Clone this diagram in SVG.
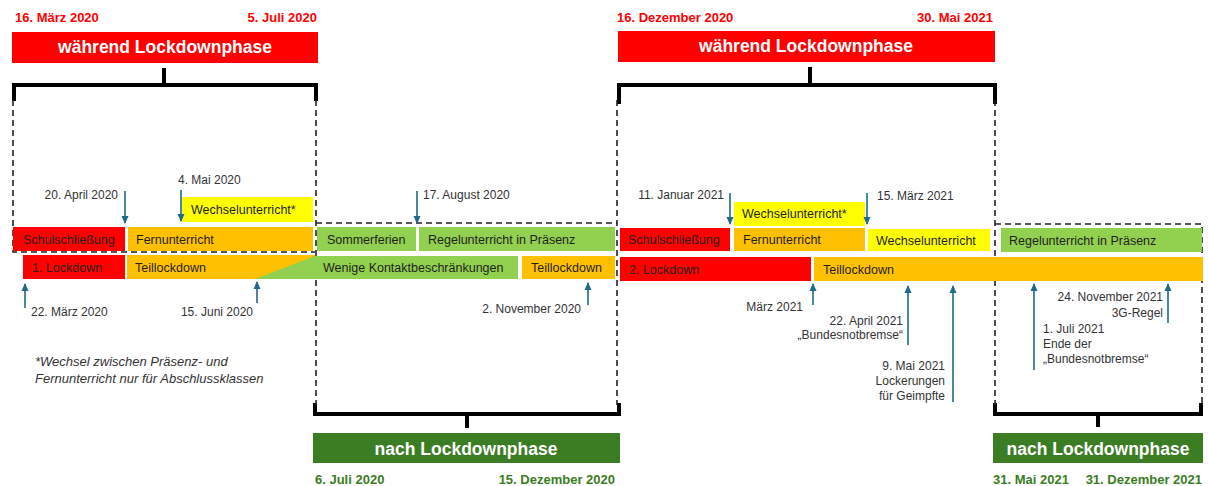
<svg xmlns="http://www.w3.org/2000/svg" width="1208" height="486" viewBox="0 0 1208 486">
<defs>
<marker id="ah" markerUnits="userSpaceOnUse" markerWidth="8" markerHeight="8" viewBox="0 0 8 8" refX="7" refY="4" orient="auto">
<path d="M0,0.5 L8,4 L0,7.5 Z" fill="#1F6A8A"/>
</marker>
<style>
text{font-family:"Liberation Sans",Arial,sans-serif;}
.bx{font-size:12.5px;fill:#1f1f1f;}
.lb{font-size:12px;fill:#333;}
.r{text-anchor:end;}
.ttl{font-size:17.5px;font-weight:bold;fill:#fff;text-anchor:middle;}
.dr{font-size:13px;font-weight:bold;fill:#FF0000;}
.dg{font-size:13px;font-weight:bold;fill:#3B7D23;}
.fn{font-size:13px;font-style:italic;fill:#333;}
.red{fill:#FF0000;}
.ora{fill:#FFC000;}
.yel{fill:#FFFF00;}
.grn{fill:#92D050;}
.dash{fill:none;stroke:#222;stroke-width:1.6;stroke-dasharray:6 4;}
.brk{fill:none;stroke:#000;stroke-width:4;}
.arr{stroke:#1F6A8A;stroke-width:1.6;fill:none;marker-end:url(#ah);}
</style>
</defs>

<g id="phase1">
<text class="dr" x="15" y="22">16. März 2020</text>
<text class="dr r" x="317" y="22">5. Juli 2020</text>
<rect class="red" x="12" y="32" width="306" height="31"/>
<text class="ttl" x="165" y="53">während Lockdownphase</text>
<path class="brk" d="M14,101 V85 H316 V101 M164,68 V85"/>
</g>

<g id="phase2">
<path class="brk" d="M315,403 V414 H619 V403 M467,414 V428"/>
<rect fill="#3B7D23" x="313" y="433" width="307" height="30"/>
<text class="ttl" x="466" y="455">nach Lockdownphase</text>
<text class="dg" x="315" y="484">6. Juli 2020</text>
<text class="dg r" x="615" y="484">15. Dezember 2020</text>
</g>

<g id="phase3">
<text class="dr" x="617" y="22">16. Dezember 2020</text>
<text class="dr r" x="993" y="22">30. Mai 2021</text>
<rect class="red" x="618" y="31" width="377" height="31"/>
<text class="ttl" x="806" y="52">während Lockdownphase</text>
<path class="brk" d="M619,104 V85 H995 V104 M810,67 V85"/>
</g>

<g id="phase4">
<path class="brk" d="M995,403 V414 H1201 V403 M1098,414 V427"/>
<rect fill="#3B7D23" x="993" y="433" width="210" height="30"/>
<text class="ttl" x="1098" y="455">nach Lockdownphase</text>
<text class="dg" x="993" y="484">31. Mai 2021</text>
<text class="dg r" x="1202" y="484">31. Dezember 2021</text>
</g>

<g id="frames">
<path class="dash" d="M13,100 V252 H315"/>
<path class="dash" d="M316,100 V405"/>
<path class="dash" d="M316,223 H617"/>
<path class="dash" d="M617,100 V405"/>
<path class="dash" d="M995,100 V405"/>
<path class="dash" d="M995,224 H1202 V405"/>
</g>

<g id="bars1">
<g id="n-schul1"><rect class="red" x="13" y="227" width="112" height="24"/><text class="bx" x="23" y="244">Schulschließung</text></g>
<g id="n-fern1"><rect class="ora" x="128" y="227" width="185" height="24"/><text class="bx" x="136" y="244">Fernunterricht</text></g>
<g id="n-wech1"><rect class="yel" x="182" y="197" width="131" height="25"/><text class="bx" x="191" y="214">Wechselunterricht*</text></g>
<g id="n-lock1"><rect class="red" x="23" y="255" width="102" height="24"/><text class="bx" x="32" y="272">1. Lockdown</text></g>
<g id="n-teil1"><rect class="ora" x="127" y="255" width="188" height="24"/><polygon class="grn" points="255,279 315,256 315,279"/><text class="bx" x="135" y="272">Teillockdown</text></g>
</g>

<g id="bars2">
<g id="n-sommer"><rect class="grn" x="317" y="227" width="99" height="24"/><text class="bx" x="327" y="244">Sommerferien</text></g>
<g id="n-regel1"><rect class="grn" x="419" y="227" width="196" height="24"/><text class="bx" x="428" y="244">Regelunterricht in Präsenz</text></g>
<g id="n-wenige"><rect class="grn" x="313" y="256" width="205" height="23"/><text class="bx" x="323" y="272">Wenige Kontaktbeschränkungen</text></g>
<g id="n-teil2"><rect class="ora" x="522" y="256" width="93" height="23"/><text class="bx" x="531" y="272">Teillockdown</text></g>
</g>

<g id="bars3">
<g id="n-schul2"><rect class="red" x="620" y="228" width="110" height="23"/><text class="bx" x="628" y="244">Schulschließung</text></g>
<g id="n-fern2"><rect class="ora" x="734" y="228" width="131" height="23"/><text class="bx" x="743" y="244">Fernunterricht</text></g>
<g id="n-wech2"><rect class="yel" x="734" y="202" width="131" height="24"/><text class="bx" x="742" y="218">Wechselunterricht*</text></g>
<g id="n-wech3"><rect class="yel" x="868" y="229" width="122" height="22"/><text class="bx" x="876" y="245">Wechselunterricht</text></g>
<g id="n-lock2"><rect class="red" x="620" y="257" width="191" height="24"/><text class="bx" x="629" y="274">2. Lockdown</text></g>
<g id="n-teil3"><rect class="ora" x="814" y="257" width="389" height="24"/><text class="bx" x="823" y="274">Teillockdown</text></g>
</g>

<g id="bars4">
<g id="n-regel2"><rect class="grn" x="1001" y="228" width="201" height="24"/><text class="bx" x="1009" y="245">Regelunterricht in Präsenz</text></g>
</g>

<g id="connectors">
<line class="arr" x1="125" y1="191" x2="125" y2="223"/>
<line class="arr" x1="181" y1="190" x2="181" y2="221"/>
<line class="arr" x1="25" y1="308" x2="25" y2="284"/>
<line class="arr" x1="257" y1="303" x2="257" y2="282"/>
<line class="arr" x1="417" y1="191" x2="417" y2="223"/>
<line class="arr" x1="588" y1="305" x2="588" y2="283"/>
<line class="arr" x1="730" y1="193" x2="730" y2="224"/>
<line class="arr" x1="867" y1="193" x2="867" y2="224"/>
<line class="arr" x1="813" y1="305" x2="813" y2="284"/>
<line class="arr" x1="908" y1="345" x2="908" y2="286"/>
<line class="arr" x1="953" y1="402" x2="953" y2="286"/>
<line class="arr" x1="1034" y1="370" x2="1034" y2="284"/>
<line class="arr" x1="1168" y1="323" x2="1168" y2="284"/>
</g>

<g id="labels">
<text class="lb r" x="118" y="199">20. April 2020</text>
<text class="lb" x="178" y="184">4. Mai 2020</text>
<text class="lb" x="31" y="316">22. März 2020</text>
<text class="lb r" x="253" y="316">15. Juni 2020</text>
<text class="lb" x="423" y="199">17. August 2020</text>
<text class="lb r" x="581" y="313">2. November 2020</text>
<text class="lb r" x="724" y="199">11. Januar 2021</text>
<text class="lb" x="877" y="200">15. März 2021</text>
<text class="lb r" x="803" y="311">März 2021</text>
<text class="lb r" x="903" y="325">22. April 2021</text>
<text class="lb r" x="903" y="339">„Bundesnotbremse“</text>
<text class="lb r" x="945" y="370">9. Mai 2021</text>
<text class="lb r" x="945" y="385">Lockerungen</text>
<text class="lb r" x="945" y="400">für Geimpfte</text>
<text class="lb" x="1043" y="333">1. Juli 2021</text>
<text class="lb" x="1043" y="348">Ende der</text>
<text class="lb" x="1043" y="363">„Bundesnotbremse“</text>
<text class="lb r" x="1163" y="301">24. November 2021</text>
<text class="lb r" x="1163" y="317">3G-Regel</text>
<text class="fn" x="35" y="366">*Wechsel zwischen Präsenz- und</text>
<text class="fn" x="35" y="383">Fernunterricht nur für Abschlussklassen</text>
</g>
</svg>
